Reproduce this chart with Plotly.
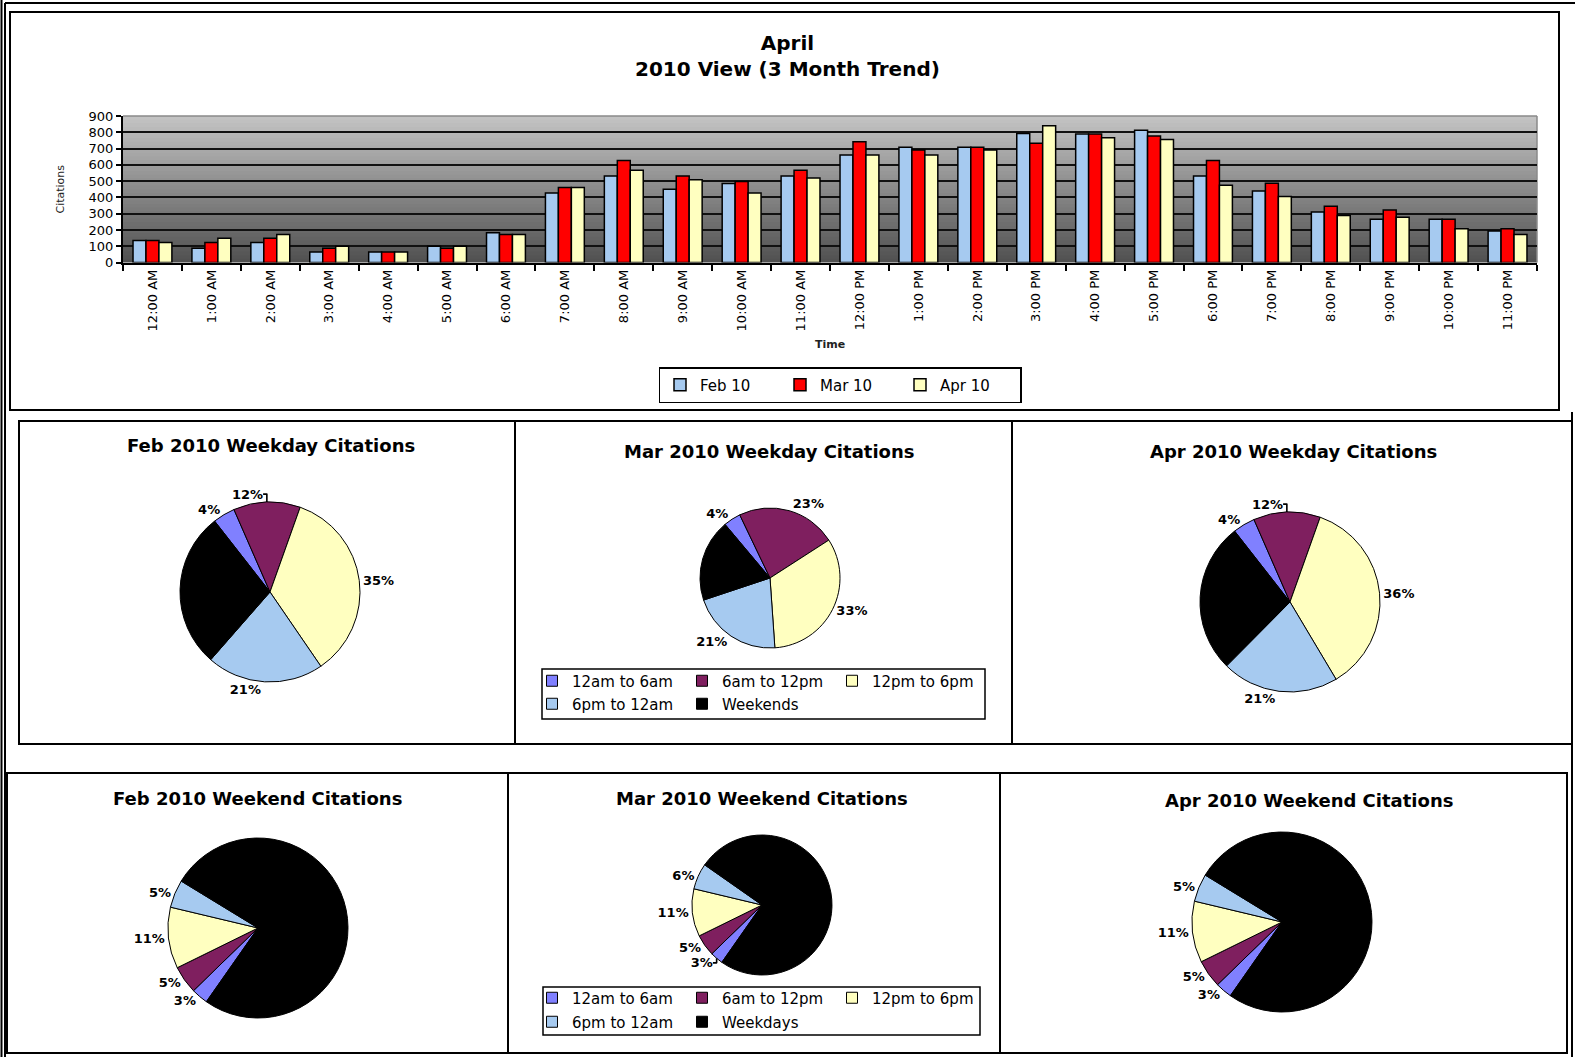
import plotly.graph_objects as go

# ---------------- data ----------------
hours = ["12:00 AM", "1:00 AM", "2:00 AM", "3:00 AM", "4:00 AM", "5:00 AM", "6:00 AM",
         "7:00 AM", "8:00 AM", "9:00 AM", "10:00 AM", "11:00 AM", "12:00 PM", "1:00 PM",
         "2:00 PM", "3:00 PM", "4:00 PM", "5:00 PM", "6:00 PM", "7:00 PM", "8:00 PM",
         "9:00 PM", "10:00 PM", "11:00 PM"]
feb10 = [135, 88, 123, 65, 65, 100, 182, 427, 532, 450, 485, 532, 660, 708, 708, 792, 789, 812, 532, 440, 311, 266, 266, 194]
mar10 = [135, 123, 149, 88, 65, 88, 172, 460, 626, 532, 497, 566, 742, 691, 708, 732, 789, 777, 626, 487, 346, 323, 266, 207]
apr10 = [123, 149, 172, 100, 65, 100, 172, 460, 566, 509, 427, 519, 660, 660, 691, 840, 767, 755, 474, 405, 288, 278, 207, 172]
series_names = ["Feb 10", "Mar 10", "Apr 10"]

weekday_segments = ["12am to 6am", "6am to 12pm", "12pm to 6pm", "6pm to 12am", "Weekends"]
weekend_segments = ["12am to 6am", "6am to 12pm", "12pm to 6pm", "6pm to 12am", "Weekdays"]
weekday_titles = ["Feb 2010 Weekday Citations", "Mar 2010 Weekday Citations", "Apr 2010 Weekday Citations"]
weekend_titles = ["Feb 2010 Weekend Citations", "Mar 2010 Weekend Citations", "Apr 2010 Weekend Citations"]
feb_weekday = [4, 12, 35, 21, 28]
mar_weekday = [4, 23, 33, 21, 19]
apr_weekday = [4, 12, 36, 21, 27]
feb_weekend = [3, 5, 11, 5, 76]
mar_weekend = [3, 5, 11, 6, 75]
apr_weekend = [3, 5, 11, 5, 76]

# ---------------- helpers ----------------
W, H = 1575, 1057
FONT = "DejaVu Sans"


def fx(x):
    return x / W


def fy(y):
    return 1 - y / H


fig = go.Figure()

# ---------------- bar chart ----------------
bar_colors = ["#a6caf0", "#ff0000", "#ffffc0"]
for name, vals, col in zip(series_names, [feb10, mar10, apr10], bar_colors):
    fig.add_trace(go.Bar(
        x=hours, y=vals, name=name, legend="legend",
        marker=dict(color=col, line=dict(color="black", width=1.5)),
    ))

# ---------------- pies ----------------
pie_colors = ["#8080ff", "#7f1f5f", "#ffffc0", "#a6caf0", "#000000"]


def add_pie(labels, vals, cx, cy, d, rotation, n_labeled=4):
    text = [f"{v}%" for v in vals[:n_labeled]] + ["" for _ in vals[n_labeled:]]
    fig.add_trace(go.Pie(
        labels=labels, values=vals, text=text, textinfo="text",
        textposition="outside", sort=False, direction="clockwise",
        rotation=rotation, showlegend=False, hoverinfo="label+percent",
        marker=dict(colors=pie_colors, line=dict(color="black", width=1)),
        textfont=dict(family=FONT, size=13, color="black", weight="bold"),
        domain=dict(x=[fx(cx - d / 2), fx(cx + d / 2)],
                    y=[fy(cy + d / 2), fy(cy - d / 2)]),
    ))


add_pie(weekday_segments, feb_weekday, 270, 592, 180, -38)
add_pie(weekday_segments, mar_weekday, 770, 578, 140, -40)
add_pie(weekday_segments, apr_weekday, 1290, 602, 180, -38)
add_pie(weekend_segments, feb_weekend, 258, 928, 180, 215)
add_pie(weekend_segments, mar_weekend, 762, 905, 140, 215)
add_pie(weekend_segments, apr_weekend, 1282, 922, 180, 215)

# legend entries for the pie legends (two rows each)
for i, (lab, col) in enumerate(zip(weekday_segments, pie_colors)):
    fig.add_trace(go.Scatter(
        x=[None], y=[None], mode="markers", name=lab, hoverinfo="skip",
        legend="legend2" if i < 3 else "legend3",
        marker=dict(symbol="square", size=11, color=col, line=dict(color="black", width=1)),
    ))
for i, (lab, col) in enumerate(zip(weekend_segments, pie_colors)):
    fig.add_trace(go.Scatter(
        x=[None], y=[None], mode="markers", name=lab, hoverinfo="skip",
        legend="legend4" if i < 3 else "legend5",
        marker=dict(symbol="square", size=11, color=col, line=dict(color="black", width=1)),
    ))

# ---------------- shapes: gradient background + frames ----------------
shapes = []
n = 40
for i in range(n):
    v = int(round(80 + (196 - 80) * ((i + 0.5) / n)))
    shapes.append(dict(type="rect", xref="x domain", yref="y domain",
                       x0=0, x1=1, y0=i / n, y1=min(1.0, (i + 1) / n + 0.012),
                       fillcolor=f"rgb({v},{v},{v})", line=dict(width=0), layer="below"))
# top / right edges of plot area
shapes.append(dict(type="line", xref="x domain", yref="y domain", x0=0, x1=1, y0=1, y1=1,
                   line=dict(color="#8a8a8a", width=1.5), layer="below"))
shapes.append(dict(type="line", xref="x domain", yref="y domain", x0=1, x1=1, y0=0, y1=1,
                   line=dict(color="#8a8a8a", width=1.5), layer="below"))


def rect(x0, y0, x1, y1, w=2):
    shapes.append(dict(type="rect", xref="paper", yref="paper",
                       x0=fx(x0), x1=fx(x1), y0=fy(y1), y1=fy(y0),
                       line=dict(color="black", width=w), fillcolor="rgba(0,0,0,0)"))


def vline(x, y0, y1, w=2):
    shapes.append(dict(type="line", xref="paper", yref="paper",
                       x0=fx(x), x1=fx(x), y0=fy(y0), y1=fy(y1),
                       line=dict(color="black", width=w)))


def hline(y, x0, x1, w=2):
    shapes.append(dict(type="line", xref="paper", yref="paper",
                       x0=fx(x0), x1=fx(x1), y0=fy(y), y1=fy(y),
                       line=dict(color="black", width=w)))


# outer border
vline(1.5, 0, H, 2)
vline(5, 3, H, 2)
hline(3, 5, W, 2)
vline(1572, 412, H, 2)
# top chart frame
rect(10, 12, 1559, 410, 2)
# row 2
rect(19, 421, 1572, 744, 2)
vline(515, 421, 744, 2)
vline(1012, 421, 744, 2)
# row 3
rect(7, 773, 1567, 1053, 2)
vline(508, 773, 1053, 2)
vline(1000, 773, 1053, 2)
# pie legend boxes
rect(542, 669, 985, 719, 1.5)
rect(543, 987, 980, 1035, 1.5)

# ---------------- annotations: titles ----------------
annotations = [dict(text="April<br>2010 View (3 Month Trend)", x=fx(788), y=fy(56),
                    xref="paper", yref="paper", showarrow=False,
                    xanchor="center", yanchor="middle",
                    font=dict(family=FONT, size=20, color="black", weight="bold"))]
for t, (x, y) in zip(weekday_titles, [(271, 445), (769, 451), (1293, 451)]):
    annotations.append(dict(text=t, x=fx(x), y=fy(y), xref="paper", yref="paper",
                            showarrow=False, xanchor="center", yanchor="middle",
                            font=dict(family=FONT, size=18, color="black", weight="bold")))
for t, (x, y) in zip(weekend_titles, [(257, 798), (762, 798), (1309, 800)]):
    annotations.append(dict(text=t, x=fx(x), y=fy(y), xref="paper", yref="paper",
                            showarrow=False, xanchor="center", yanchor="middle",
                            font=dict(family=FONT, size=18, color="black", weight="bold")))

legend_common = dict(orientation="h", font=dict(family=FONT, size=15, color="black"),
                     bgcolor="rgba(0,0,0,0)", borderwidth=0, xanchor="left", yanchor="middle",
                     entrywidthmode="pixels", entrywidth=105, itemclick=False, itemdoubleclick=False)

fig.update_layout(
    width=W, height=H, autosize=False, template="none",
    margin=dict(l=0, r=0, t=0, b=0),
    paper_bgcolor="white", plot_bgcolor="rgba(0,0,0,0)",
    font=dict(family=FONT, color="black"),
    barmode="group", bargap=0.34, bargroupgap=0.0,
    showlegend=True,
    xaxis=dict(domain=[fx(123), fx(1537)], tickangle=-90, automargin=False,
               tickfont=dict(family=FONT, size=13, color="black"),
               ticks="outside", tickson="boundaries", ticklen=6, tickcolor="black", tickwidth=2,
               showline=True, linecolor="black", linewidth=2, showgrid=False,
               title=dict(text="Time", standoff=10,
                          font=dict(family=FONT, size=11, color="#222", weight="bold"))),
    yaxis=dict(domain=[fy(262.5), fy(116)], range=[0, 900], dtick=100, automargin=False,
               tickfont=dict(family=FONT, size=13, color="black"),
               ticks="outside", ticklen=5, tickcolor="black", tickwidth=2,
               showline=True, linecolor="black", linewidth=2,
               showgrid=True, gridcolor="#111111", gridwidth=1.5, zeroline=False,
               title=dict(text="Citations", standoff=22,
                          font=dict(family=FONT, size=11, color="#222"))),
    legend=dict(orientation="h", x=fx(840), y=fy(385), xanchor="center", yanchor="middle",
                font=dict(family=FONT, size=15, color="black"), bgcolor="white",
                bordercolor="black", borderwidth=1.5, entrywidthmode="pixels", entrywidth=75,
                itemclick=False, itemdoubleclick=False),
    legend2=dict(x=fx(532), y=fy(681), **legend_common),
    legend3=dict(x=fx(532), y=fy(704), **legend_common),
    legend4=dict(x=fx(532), y=fy(998), **legend_common),
    legend5=dict(x=fx(532), y=fy(1022), **legend_common),
    shapes=shapes,
    annotations=annotations,
)

fig.write_html("out.html", config={"displayModeBar": False},
               post_script="document.body.style.margin='0';document.body.style.overflow='hidden';")
